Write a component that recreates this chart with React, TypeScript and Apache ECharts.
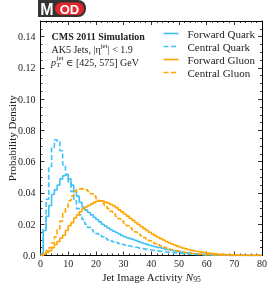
import React, { useEffect, useRef } from "react";
import * as echarts from "echarts";

const seriesNames = ["Forward Quark", "Central Quark", "Forward Gluon", "Central Gluon"];

// Probability density per unit-width bin of N95, bins [i, i+1), i = 0..79
const forwardQuark = [
  0.001, 0.016, 0.025, 0.032, 0.039, 0.042, 0.045, 0.049, 0.051, 0.0515,
  0.049, 0.045, 0.041, 0.038, 0.034, 0.031, 0.029, 0.0275, 0.026, 0.0245,
  0.023, 0.0215, 0.02, 0.0188, 0.0176, 0.0165, 0.0155, 0.0147, 0.0138, 0.0128,
  0.012, 0.0114, 0.0108, 0.0102, 0.0096, 0.009, 0.0083, 0.0077, 0.0071, 0.0066,
  0.0061, 0.0056, 0.0051, 0.0047, 0.0043, 0.0038, 0.0035, 0.0031, 0.0028, 0.0025,
  0.0022, 0.0019, 0.0017, 0.0015, 0.0013, 0.0011, 0.001, 0.0008, 0.0007, 0.0006,
  0.0005, 0.0004, 0.0004, 0.0003, 0.0003, 0.0002, 0.0002, 0.0002, 0.0001, 0.0001,
  0.0001, 0.0001, 0.0001, 0.0001, 0, 0, 0, 0, 0, 0,
];
const centralQuark = [
  0.001, 0.017, 0.036, 0.057, 0.069, 0.074, 0.073, 0.067, 0.058, 0.052,
  0.047, 0.041, 0.035, 0.03, 0.026, 0.023, 0.02, 0.018, 0.0165, 0.015,
  0.014, 0.013, 0.012, 0.011, 0.01, 0.0093, 0.0088, 0.0083, 0.0077, 0.0072,
  0.0067, 0.0062, 0.0058, 0.0055, 0.0051, 0.0047, 0.0044, 0.0041, 0.0038, 0.0035,
  0.0033, 0.003, 0.0028, 0.0026, 0.0024, 0.0022, 0.002, 0.0018, 0.0016, 0.0015,
  0.0013, 0.0012, 0.001, 0.0009, 0.0008, 0.0007, 0.0006, 0.0005, 0.0004, 0.0004,
  0.0003, 0.0003, 0.0002, 0.0002, 0.0002, 0.0001, 0.0001, 0.0001, 0.0001, 0.0001,
  0.0001, 0, 0, 0, 0, 0, 0, 0, 0, 0,
];
const forwardGluon = [
  0, 0.001, 0.002, 0.003, 0.005, 0.007, 0.009, 0.011, 0.013, 0.016,
  0.019, 0.021, 0.024, 0.026, 0.028, 0.03, 0.031, 0.032, 0.033, 0.034,
  0.0347, 0.035, 0.0348, 0.0342, 0.0335, 0.0327, 0.0318, 0.0306, 0.0292, 0.0279,
  0.0265, 0.0252, 0.0238, 0.0225, 0.0211, 0.0198, 0.0185, 0.0172, 0.016, 0.0149,
  0.0138, 0.0127, 0.0117, 0.0108, 0.0099, 0.009, 0.0082, 0.0074, 0.0067, 0.006,
  0.0054, 0.0048, 0.0043, 0.0038, 0.0033, 0.0029, 0.0026, 0.0023, 0.002, 0.0017,
  0.0015, 0.0013, 0.0011, 0.0009, 0.0008, 0.0007, 0.0006, 0.0005, 0.0004, 0.0003,
  0.0003, 0.0002, 0.0002, 0.0002, 0.0001, 0.0001, 0.0001, 0.0001, 0.0001, 0.0001,
];
const centralGluon = [
  0, 0.001, 0.003, 0.005, 0.008, 0.012, 0.017, 0.022, 0.027, 0.031,
  0.035, 0.038, 0.041, 0.0425, 0.0428, 0.0425, 0.042, 0.041, 0.0395, 0.038,
  0.0365, 0.035, 0.0335, 0.0318, 0.03, 0.0283, 0.0267, 0.025, 0.0235, 0.022,
  0.0205, 0.019, 0.0176, 0.0163, 0.015, 0.0138, 0.0126, 0.0115, 0.0104, 0.0094,
  0.0085, 0.0076, 0.0068, 0.0061, 0.0054, 0.0048, 0.0042, 0.0037, 0.0032, 0.0028,
  0.0024, 0.0021, 0.0018, 0.0015, 0.0013, 0.0011, 0.0009, 0.0007, 0.0006, 0.0005,
  0.0004, 0.0003, 0.0003, 0.0002, 0.0002, 0.0001, 0.0001, 0.0001, 0.0001, 0,
  0, 0, 0, 0, 0, 0, 0, 0, 0, 0,
];

const X_MIN = 0;
const X_MAX = 80;
const X_INTERVAL = 10;
const Y_MIN = 0;
const Y_MAX = 0.15;
const Y_INTERVAL = 0.02;

const BLUE = "#3fc3f7";
const ORANGE = "#ffa500";
const SERIF = "'Liberation Serif', 'DejaVu Serif', serif";
const SANS = "'Liberation Sans', 'DejaVu Sans', sans-serif";
const TEXT = "#222";
const DASH = [5, 2.5];

function toSteps(values: number[]) {
  const pts: [number, number][] = values.map((v, i) => [X_MIN + i, v]);
  pts.push([X_MIN + values.length, values[values.length - 1]]);
  return pts;
}

export default function App() {
  const ref = useRef<HTMLDivElement>(null);
  useEffect(() => {
    if (!ref.current) return;
    const chart = echarts.init(ref.current, undefined, { renderer: "svg" });
    const axisCommon = {
      axisLine: { show: true, onZero: false, lineStyle: { color: "#000", width: 1 } },
      axisTick: { show: true, inside: true, length: 4, lineStyle: { color: "#000", width: 0.8 } },
      splitLine: { show: false },
    };
    const seriesDefs = [
      { name: seriesNames[0], data: forwardQuark, color: BLUE, dashed: false },
      { name: seriesNames[1], data: centralQuark, color: BLUE, dashed: true },
      { name: seriesNames[2], data: forwardGluon, color: ORANGE, dashed: false },
      { name: seriesNames[3], data: centralGluon, color: ORANGE, dashed: true },
    ];
    const legendGraphics: any[] = [];
    seriesDefs.forEach((s, k) => {
      const y = 33.5 + 13 * k;
      legendGraphics.push({
        type: "line",
        shape: { x1: 163.5, y1: y, x2: 178.5, y2: y },
        style: { stroke: s.color, lineWidth: 1.6, lineDash: s.dashed ? DASH : null },
      });
      legendGraphics.push({
        type: "text",
        x: 187.5,
        y,
        style: { text: s.name, fill: TEXT, font: `11px ${SERIF}`, textVerticalAlign: "middle" },
      });
    });
    chart.setOption({
      animation: false,
      grid: { left: 40.5, right: 12, top: 21, bottom: 31.5, containLabel: false, outerBoundsMode: "none" },
      xAxis: [
        {
          type: "value", min: X_MIN, max: X_MAX, interval: X_INTERVAL, position: "bottom",
          ...axisCommon,
          minorTick: { show: true, splitNumber: 5, length: 2, lineStyle: { color: "#000", width: 0.8 } },
          axisLabel: { fontFamily: SERIF, fontSize: 10, color: TEXT, margin: 3 },
          name: "Jet Image Activity {i|N}{s|95}",
          nameLocation: "middle",
          nameGap: 14,
          nameMoveOverlap: false,
          nameTextStyle: {
            fontFamily: SERIF, fontSize: 11, color: TEXT, verticalAlign: "top", lineHeight: 14,
            rich: {
              i: { fontFamily: SERIF, fontStyle: "italic", fontSize: 11, color: TEXT, lineHeight: 14 },
              s: { fontFamily: SERIF, fontSize: 7.5, color: TEXT, verticalAlign: "bottom", lineHeight: 14 },
            },
          },
        },
        {
          type: "value", min: X_MIN, max: X_MAX, interval: X_INTERVAL, position: "top",
          ...axisCommon,
          minorTick: { show: true, splitNumber: 5, length: 2, lineStyle: { color: "#000", width: 0.8 } },
          axisLabel: { show: false },
        },
      ],
      yAxis: [
        {
          type: "value", min: Y_MIN, max: Y_MAX, interval: Y_INTERVAL, position: "left",
          ...axisCommon,
          minorTick: { show: true, splitNumber: 4, length: 2, lineStyle: { color: "#000", width: 0.8 } },
          axisLabel: {
            fontFamily: SERIF, fontSize: 10, color: TEXT, margin: 5,
            formatter: (v: number) => (v === 0 ? "0.0" : v > 0.145 ? "" : v.toFixed(2)),
          },
          name: "Probability Density",
          nameLocation: "middle",
          nameGap: 23,
          nameMoveOverlap: false,
          nameTextStyle: { fontFamily: SERIF, fontSize: 11, color: TEXT },
        },
        {
          type: "value", min: Y_MIN, max: Y_MAX, interval: Y_INTERVAL, position: "right",
          ...axisCommon,
          minorTick: { show: true, splitNumber: 4, length: 2, lineStyle: { color: "#000", width: 0.8 } },
          axisLabel: { show: false },
        },
      ],
      series: seriesDefs.map((s) => ({
        name: s.name,
        type: "line",
        step: "end",
        xAxisIndex: 0,
        yAxisIndex: 0,
        symbol: "none",
        data: toSteps(s.data),
        color: s.color,
        lineStyle: { color: s.color, width: 1.6, type: s.dashed ? DASH : "solid" },
      })),
      graphic: [
        { type: "rect", shape: { x: 38, y: 0, width: 48, height: 17, r: [0, 8, 8, 0] }, style: { fill: "#333" } },
        { type: "text", x: 47, y: 9, style: { text: "M", fill: "#fff", font: `bold 16px ${SANS}`, textAlign: "center", textVerticalAlign: "middle" } },
        { type: "rect", shape: { x: 55, y: 2.5, width: 29, height: 12.5, r: 6.25 }, style: { fill: "#e3262d" } },
        { type: "text", x: 69.5, y: 9, style: { text: "OD", fill: "#fff", font: `bold 13px ${SANS}`, textAlign: "center", textVerticalAlign: "middle" } },
        { type: "text", x: 51.5, y: 36, style: { text: "CMS 2011 Simulation", fill: TEXT, font: `bold 10px ${SERIF}`, textVerticalAlign: "middle" } },
        {
          type: "text", x: 51.5, y: 49,
          style: {
            text: "AK5 Jets, |η{sup|jet}| < 1.9",
            fill: TEXT, font: `10px ${SERIF}`, textVerticalAlign: "middle", lineHeight: 14,
            rich: { sup: { font: `7px ${SERIF}`, fill: TEXT, verticalAlign: "top", lineHeight: 14 } },
          },
        },
        { type: "text", x: 51, y: 62, style: { text: "p", fill: TEXT, font: `italic 10px ${SERIF}`, textVerticalAlign: "middle" } },
        { type: "text", x: 56.5, y: 65, style: { text: "T", fill: TEXT, font: `italic 7px ${SERIF}`, textVerticalAlign: "middle" } },
        { type: "text", x: 56.5, y: 57.5, style: { text: "jet", fill: TEXT, font: `7px ${SERIF}`, textVerticalAlign: "middle" } },
        { type: "text", x: 66, y: 62, style: { text: "∈ [425, 575] GeV", fill: TEXT, font: `10px ${SERIF}`, textVerticalAlign: "middle" } },
        ...legendGraphics,
      ],
    });
    return () => chart.dispose();
  }, []);
  return <div ref={ref} style={{ position: "fixed", left: 0, top: 0, width: 274, height: 287 }} />;
}
